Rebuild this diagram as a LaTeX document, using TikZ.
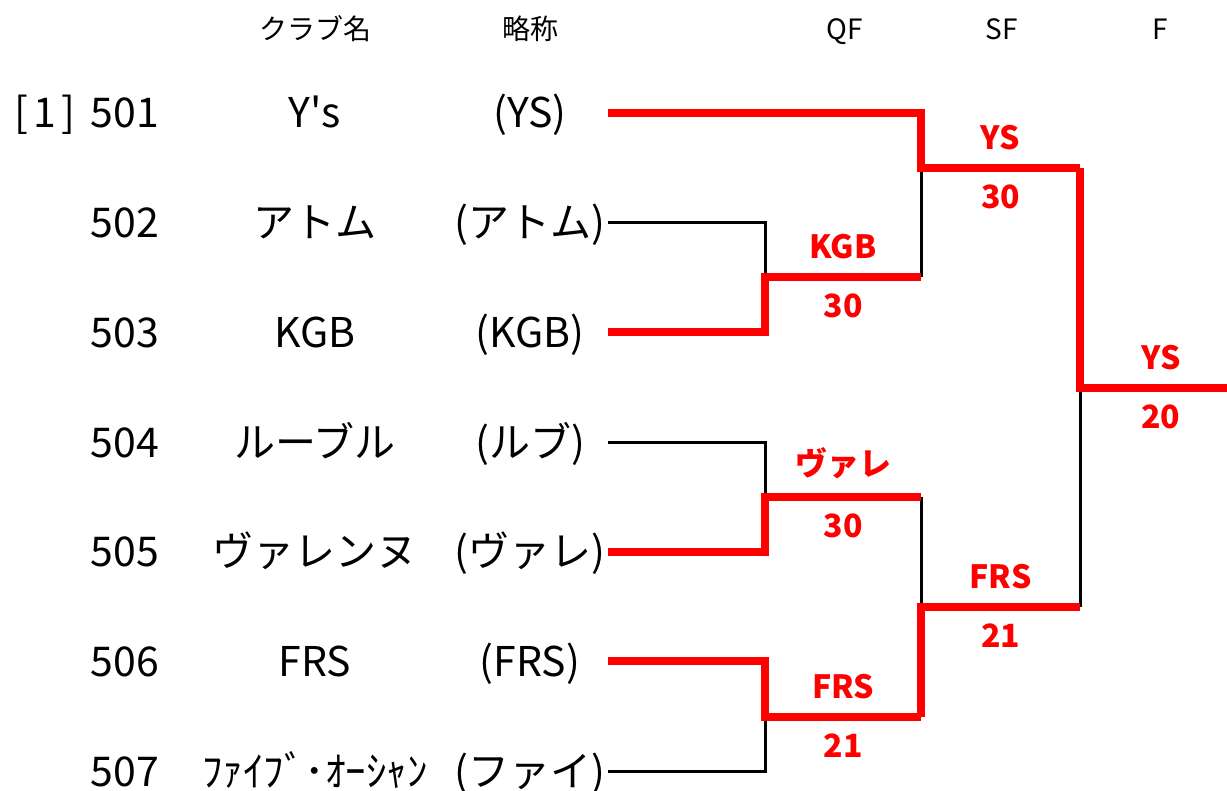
\documentclass[tikz,border=0pt]{standalone}
\usepackage{fontspec}
\setmainfont{Noto Sans CJK JP}
\usetikzlibrary{positioning}

\begin{document}
\begin{tikzpicture}[x=1pt,y=-1pt,
	win/.style={color=red,line width=8pt,line join=miter},
	lose/.style={color=black,line width=3pt},
	head/.style={anchor=base,font=\fontsize{28}{28}\selectfont},
	entry/.style={anchor=base,font=\fontsize{41}{41}\selectfont},
	score/.style={color=red,inner sep=0pt,font=\fontsize{32}{32}\selectfont\bfseries}]
	\useasboundingbox (0,0) rectangle (1227,791);
	% headings
	\node[head] (hclub) at (315,40) {クラブ名};
	\node[head] (habbr) at (530,40) {略称};
	\node[head] (hqf) at (845,40) {QF};
	\node[head] (hsf) at (1002,40) {SF};
	\node[head] (hf) at (1160,40) {F};
	% teams
	\node[entry] (block) at (45,128) {[\kern5pt1\kern5pt]};
	\foreach \i/\num/\club/\abbr in {1/501/Y\textquotesingle s/(YS),2/502/アトム/(アトム),3/503/KGB/(KGB),
		4/504/ルーブル/(ルブ),5/505/ヴァレンヌ/(ヴァレ),6/506/FRS/(FRS),7/507/ﾌｧｲﾌﾞ･ｵｰｼｬﾝ/(ファイ)} {
		\pgfmathsetmacro{\y}{113+(\i-1)*109.67}
		\node[entry] (num\i) at (125,\y+15) {\num};
		\node[entry] (club\i) at (315,\y+15) {\club};
		\node[entry] (abbr\i) at (530,\y+15) {\abbr};
		\coordinate (s\i) at (608,\y);
	}
	% bracket joints
	\coordinate (m1) at (765,277);
	\coordinate (m2) at (765,497);
	\coordinate (m3) at (765,717);
	\coordinate (n1) at (921,168);
	\coordinate (n2) at (921,607);
	\coordinate (f) at (1080,388);
	\coordinate (end) at (1227,388);
	% losers
	\draw[lose] (s2) -| (m1);
	\draw[lose] (s4) -| (m2);
	\draw[lose] (s7) -| (m3);
	\draw[lose] (n1) -- (m1 -| n1);
	\draw[lose] (m2 -| n2) -- (n2);
	\draw[lose] (f) -- (n2 -| f);
	% winners
	\draw[win] (s3) -| (m1) -- (m1 -| n1)
		node[midway,above=14pt,score] (qf1) {KGB} node[midway,below=13pt,score] (qf1s) {30};
	\draw[win] (s5) -| (m2) -- (m2 -| n2)
		node[midway,above=14pt,score] (qf2) {ヴァレ} node[midway,below=13pt,score] (qf2s) {30};
	\draw[win] (s6) -| (m3) -- (m3 -| n2)
		node[midway,above=14pt,score] (qf3) {FRS} node[midway,below=13pt,score] (qf3s) {21};
	\draw[win] (m3 -| n2) -- (n2) -- (n2 -| f)
		node[midway,above=14pt,score] (sf2) {FRS} node[midway,below=13pt,score] (sf2s) {21};
	\draw[win] (s1) -| (n1) -- (n1 -| f)
		node[midway,above=14pt,score] (sf1) {YS} node[midway,below=13pt,score] (sf1s) {30};
	\draw[win] (n1 -| f) -- (f) -- (end)
		node[pos=0.55,above=14pt,score] (fw) {YS} node[pos=0.55,below=13pt,score] (fws) {20};
\end{tikzpicture}
\end{document}
